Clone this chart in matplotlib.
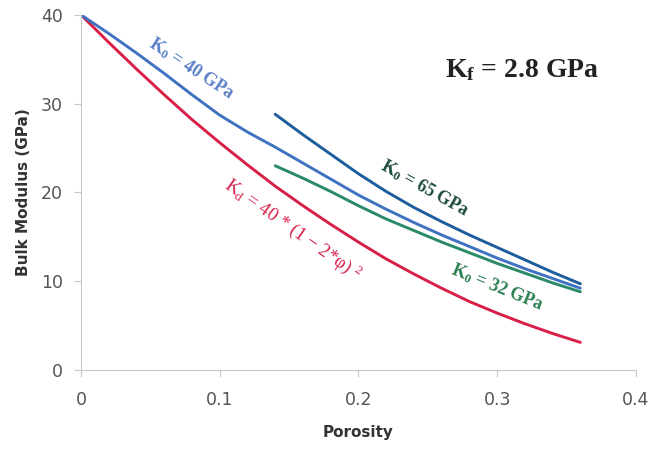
import numpy as np
import matplotlib.pyplot as plt

# porosity grid and read-off bulk modulus values (GPa)
phi_full = [0.0, 0.02, 0.04, 0.06, 0.08, 0.10, 0.12, 0.14, 0.16, 0.18,
            0.20, 0.22, 0.24, 0.26, 0.28, 0.30, 0.32, 0.34, 0.36]
k_dry = [40.0, 36.9, 33.9, 31.0, 28.2, 25.6, 23.1, 20.7, 18.5, 16.4,
         14.4, 12.5, 10.8, 9.2, 7.7, 6.4, 5.2, 4.1, 3.1]
k_40 = [40.0, 37.9, 35.7, 33.4, 31.0, 28.7, 26.8, 25.1, 23.3, 21.5,
        19.7, 18.1, 16.6, 15.2, 13.9, 12.6, 11.4, 10.3, 9.2]

phi_part = [0.14, 0.16, 0.18, 0.20, 0.22, 0.24, 0.26, 0.28, 0.30, 0.32, 0.34, 0.36]
k_65 = [28.8, 26.5, 24.3, 22.1, 20.1, 18.3, 16.7, 15.2, 13.8, 12.4, 11.0, 9.7]
k_32 = [23.0, 21.6, 20.1, 18.5, 17.0, 15.7, 14.4, 13.2, 12.0, 10.9, 9.8, 8.8]

c_red = '#d81f48'
c_lblue = '#3f72c0'
c_dblue = '#1c5d9e'
c_green = '#2a8a68'

fig = plt.figure(figsize=(6.61, 4.5), dpi=100)
ax = fig.add_axes([0.1225, 0.178, 0.8395, 0.789])

for x, y, c in [(phi_full, k_dry, c_red), (phi_full, k_40, c_lblue),
                (phi_part, k_32, c_green), (phi_part, k_65, c_dblue)]:
    ax.plot(x, y, color=c, lw=2.1, solid_joinstyle='round', solid_capstyle='round')

ax.set_xlim(0, 0.4)
ax.set_ylim(0, 40)
ax.set_xticks([0, 0.1, 0.2, 0.3, 0.4])
ax.set_xticklabels(['0', '0.1', '0.2', '0.3', '0.4'])
ax.set_yticks([0, 10, 20, 30, 40])

for s in ['top', 'right']:
    ax.spines[s].set_visible(False)
for s in ['left', 'bottom']:
    ax.spines[s].set_color('#c8c8c8')
ax.tick_params(colors='#c8c8c8', labelcolor='#555555', labelsize=12.5, length=5)
ax.tick_params(axis='x', pad=10)
ax.tick_params(axis='y', pad=8)

ax.set_xlabel('Porosity', fontsize=11, fontweight='bold', color='#333333', labelpad=12)
ax.set_ylabel('Bulk Modulus (GPa)', fontsize=11, fontweight='bold', color='#333333', labelpad=7)

serif = 'Liberation Serif'
ax.text(0.08, 34.0, r'$\mathregular{K_0}$ = 40 GPa', color='#5a80c8', family=serif,
        fontsize=13, fontweight='bold', rotation=-33, ha='center', va='center')
ax.text(0.248, 20.5, r'$\mathregular{K_0}$ = 65 GPa', color='#1d4b3a', family=serif,
        fontsize=13, fontweight='bold', rotation=-29, ha='center', va='center')
ax.text(0.153, 15.8, r'$\mathregular{K_d}$ = 40 * (1 − 2*φ) $\mathregular{^2}$', color=c_red,
        family=serif, fontsize=13.5, rotation=-35, ha='center', va='center')
ax.text(0.30, 9.35, r'$\mathregular{K_0}$ = 32 GPa', color='#2a7f50', family=serif,
        fontsize=13, fontweight='bold', rotation=-22, ha='center', va='center')
ax.text(0.318, 33.8, r'$\mathregular{K_f}$ = 2.8 GPa', color='#222222', family=serif,
        fontsize=20, fontweight='bold', ha='center', va='center')

fig.savefig('out.png', dpi=100, facecolor='w')
